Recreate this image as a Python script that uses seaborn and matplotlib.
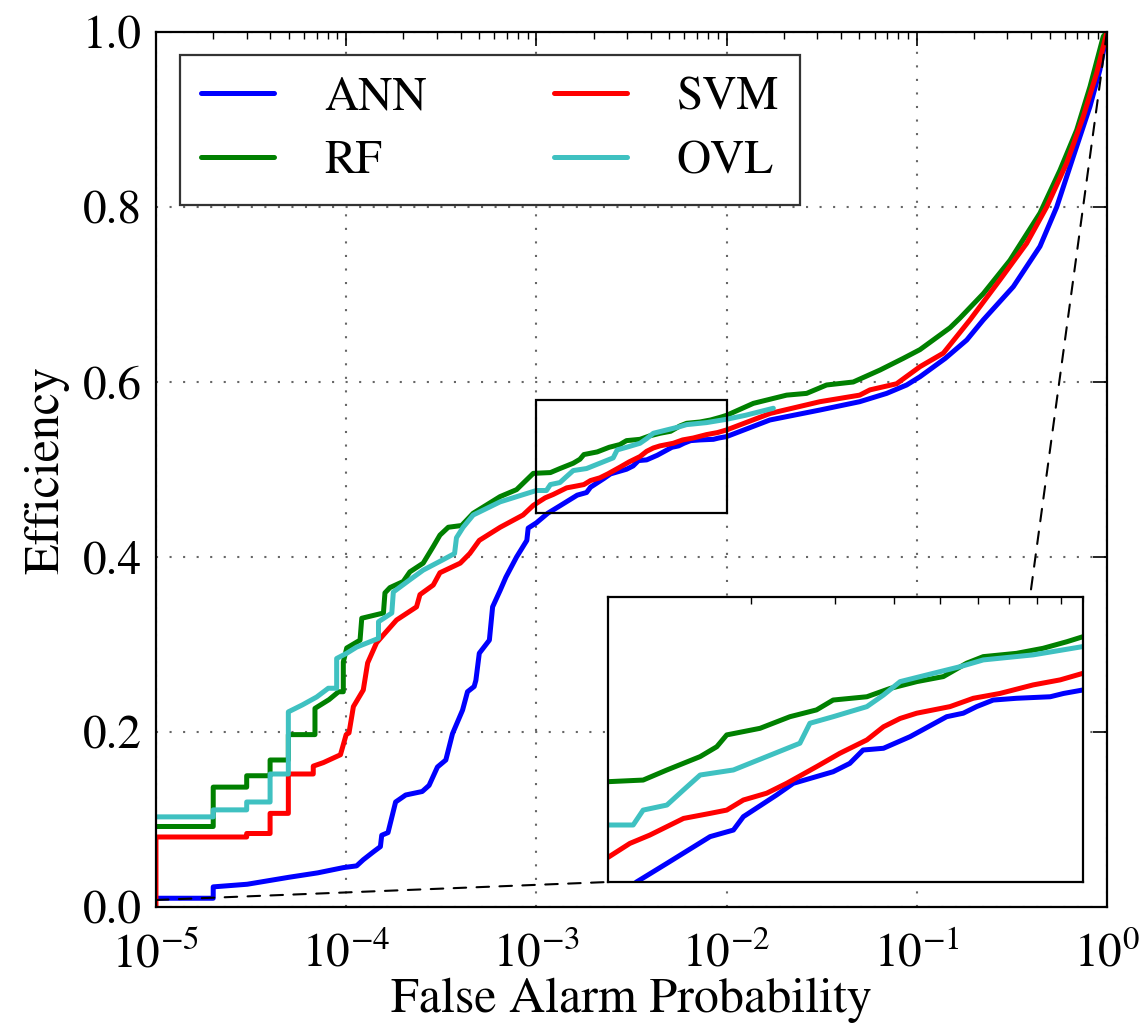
import numpy as np
import pandas as pd
import matplotlib
matplotlib.use("Agg")
import matplotlib.pyplot as plt
import seaborn as sns
from matplotlib.patches import Rectangle, ConnectionPatch
from matplotlib.ticker import LogLocator, NullFormatter, FormatStrFormatter

# ---------------- data (x given as log10 of false alarm probability) ----------------
ann_logfap = [-5.0, -4.699, -4.699, -4.52, -4.30, -4.15, -4.015, -3.945, -3.91, -3.857, -3.82, -3.813,
              -3.78, -3.74, -3.687, -3.60, -3.564, -3.52, -3.476, -3.441, -3.388, -3.362, -3.327, -3.318,
              -3.30, -3.247, -3.23, -3.19, -3.16, -3.104, -3.05, -3.043, -3.0, -2.94, -2.876, -2.785,
              -2.736, -2.715, -2.645, -2.61, -2.526, -2.491, -2.463, -2.42, -2.364, -2.287, -2.252, -2.224,
              -2.189, -2.14, -2.069, -2.041, -2.0, -1.772, -1.509, -1.30, -1.158, -1.053, -0.983, -0.85,
              -0.737, -0.65, -0.492, -0.352, -0.264, -0.177, -0.089, -0.037, 0.0]
ann_eff = [0.010, 0.010, 0.023, 0.026, 0.034, 0.039, 0.045, 0.047, 0.054, 0.063, 0.069, 0.082,
           0.085, 0.120, 0.128, 0.132, 0.139, 0.160, 0.168, 0.198, 0.225, 0.246, 0.252, 0.259,
           0.290, 0.305, 0.343, 0.362, 0.377, 0.400, 0.419, 0.433, 0.439, 0.450, 0.4585, 0.4707,
           0.4737, 0.4798, 0.4897, 0.495, 0.5003, 0.5041, 0.5102, 0.511, 0.5163, 0.5254, 0.527, 0.530,
           0.533, 0.5338, 0.5345, 0.536, 0.5376, 0.5566, 0.568, 0.5775, 0.587, 0.5966, 0.606, 0.627,
           0.648, 0.671, 0.709, 0.755, 0.80, 0.8575, 0.915, 0.9566, 1.0]

svm_logfap = [-5.0, -5.0, -4.523, -4.523, -4.40, -4.40, -4.304, -4.304, -4.173, -4.173, -4.12, -4.03,
              -4.0, -3.985, -3.962, -3.91, -3.887, -3.84, -3.804, -3.735, -3.63, -3.612, -3.542, -3.507,
              -3.40, -3.35, -3.30, -3.19, -3.07, -3.016, -2.954, -2.912, -2.841, -2.785, -2.75, -2.715,
              -2.666, -2.624, -2.561, -2.512, -2.455, -2.42, -2.385, -2.35, -2.28, -2.231, -2.175, -2.105,
              -2.048, -2.0, -1.772, -1.509, -1.30, -1.246, -1.106, -0.983, -0.86, -0.72, -0.563, -0.422,
              -0.317, -0.212, -0.125, -0.054, 0.0]
svm_eff = [0.0, 0.080, 0.080, 0.084, 0.084, 0.107, 0.107, 0.152, 0.152, 0.161, 0.165, 0.174,
           0.197, 0.199, 0.229, 0.248, 0.279, 0.302, 0.311, 0.328, 0.343, 0.357, 0.368, 0.382,
           0.393, 0.404, 0.419, 0.434, 0.448, 0.459, 0.4676, 0.4714, 0.479, 0.4813, 0.4828, 0.4874,
           0.4905, 0.495, 0.5026, 0.5087, 0.5148, 0.5208, 0.5246, 0.527, 0.530, 0.5338, 0.536, 0.5399,
           0.5422, 0.5452, 0.564, 0.5775, 0.585, 0.591, 0.598, 0.6175, 0.633, 0.671, 0.7166, 0.7585,
           0.80, 0.85, 0.903, 0.953, 1.0]

rf_logfap = [-5.0, -4.699, -4.699, -4.523, -4.523, -4.40, -4.40, -4.304, -4.304, -4.164, -4.164, -4.09,
             -4.04, -4.015, -4.015, -3.997, -3.927, -3.918, -3.804, -3.796, -3.770, -3.70, -3.665, -3.595,
             -3.542, -3.507, -3.463, -3.393, -3.332, -3.191, -3.104, -3.016, -2.926, -2.876, -2.806, -2.771,
             -2.75, -2.68, -2.617, -2.561, -2.526, -2.455, -2.406, -2.35, -2.294, -2.245, -2.21, -2.14,
             -2.084, -2.034, -2.0, -1.859, -1.684, -1.579, -1.474, -1.334, -1.193, -1.071, -0.983, -0.825,
             -0.773, -0.650, -0.510, -0.352, -0.247, -0.159, -0.089, -0.019, 0.0]
rf_eff = [0.092, 0.092, 0.137, 0.137, 0.150, 0.150, 0.168, 0.168, 0.197, 0.197, 0.227, 0.237,
          0.246, 0.246, 0.280, 0.296, 0.305, 0.330, 0.336, 0.359, 0.365, 0.372, 0.383, 0.393,
          0.412, 0.425, 0.434, 0.436, 0.450, 0.469, 0.477, 0.4956, 0.4965, 0.5011, 0.5072, 0.5117,
          0.5171, 0.5201, 0.5254, 0.5285, 0.533, 0.5345, 0.5383, 0.5414, 0.5437, 0.5498, 0.5528, 0.5543,
          0.5566, 0.5596, 0.5619, 0.5756, 0.585, 0.587, 0.5966, 0.600, 0.6137, 0.627, 0.637, 0.662,
          0.673, 0.701, 0.739, 0.793, 0.842, 0.888, 0.9375, 0.995, 1.0]

ovl_logfap = [-5.0, -4.699, -4.699, -4.523, -4.523, -4.40, -4.40, -4.304, -4.304, -4.23, -4.155, -4.094,
              -4.05, -4.05, -3.997, -3.945, -3.83, -3.83, -3.76, -3.752, -3.665, -3.595, -3.49, -3.43,
              -3.42, -3.385, -3.332, -3.191, -3.0, -2.947, -2.926, -2.876, -2.841, -2.806, -2.736, -2.666,
              -2.596, -2.575, -2.526, -2.455, -2.42, -2.385, -2.315, -2.259, -2.21, -2.105, -2.0, -1.9, -1.754]
ovl_eff = [0.103, 0.103, 0.111, 0.111, 0.120, 0.120, 0.152, 0.152, 0.223, 0.231, 0.240, 0.250,
           0.250, 0.284, 0.290, 0.297, 0.307, 0.326, 0.336, 0.360, 0.374, 0.385, 0.397, 0.404,
           0.422, 0.434, 0.448, 0.463, 0.476, 0.476, 0.4828, 0.4851, 0.492, 0.4988, 0.5011, 0.5072,
           0.5133, 0.5224, 0.5254, 0.530, 0.5353, 0.5414, 0.5452, 0.5482, 0.5513, 0.5536, 0.5574, 0.562, 0.570]

classifiers = ["ANN", "RF", "SVM", "OVL"]
colors = {"ANN": "#0000ff", "RF": "#008000", "SVM": "#ff0000", "OVL": "#3fc1c1"}
xticks_exp = [-5, -4, -3, -2, -1, 0]
yticks = [0.0, 0.2, 0.4, 0.6, 0.8, 1.0]
zoom_xlim = (1e-3, 1e-2)
zoom_ylim = (0.45, 0.58)

series = {"ANN": (ann_logfap, ann_eff), "RF": (rf_logfap, rf_eff),
          "SVM": (svm_logfap, svm_eff), "OVL": (ovl_logfap, ovl_eff)}
frames = []
for name in classifiers:
    lx, ef = series[name]
    frames.append(pd.DataFrame({"far": 10.0 ** np.asarray(lx), "eff": ef, "clf": name}))
df = pd.concat(frames, ignore_index=True)

# ---------------- style ----------------
sns.set_style("white")
plt.rcParams.update({
    "font.family": ["STIXGeneral", "DejaVu Serif"],
    "mathtext.fontset": "stix",
    "font.size": 34,
    "axes.edgecolor": "black",
    "axes.linewidth": 1.6,
    "xtick.color": "black",
    "ytick.color": "black",
    "text.color": "black",
    "axes.labelcolor": "black",
})

LW = 3.6

fig = plt.figure(figsize=(11.46, 10.23), dpi=100)
ax = fig.add_axes([0.1361, 0.1134, 0.8298, 0.8553])

sns.lineplot(data=df, x="far", y="eff", hue="clf", hue_order=classifiers, palette=colors,
             estimator=None, sort=False, errorbar=None, linewidth=LW, ax=ax)
ax.set_xscale("log")
ax.set_xlim(1e-5, 1)
ax.set_ylim(0, 1)
ax.set_xticks([10.0 ** e for e in xticks_exp])
ax.xaxis.set_minor_locator(LogLocator(base=10, subs=np.arange(2, 10), numticks=30))
ax.xaxis.set_minor_formatter(NullFormatter())
ax.set_yticks(yticks)
ax.yaxis.set_major_formatter(FormatStrFormatter("%.1f"))
ax.tick_params(which="both", direction="in", top=True, right=True, labelsize=34)
ax.tick_params(which="major", length=10, width=1.2)
ax.tick_params(axis="x", which="major", pad=18)
ax.tick_params(axis="y", which="major", pad=10)
ax.tick_params(which="minor", length=5, width=1.0)
ax.grid(True, which="major", linestyle=(0, (1, 5.5)), color="0.4", lw=1.5)
ax.set_xlabel("False Alarm Probability", fontsize=36, labelpad=0)
ax.set_ylabel("Efficiency", fontsize=36, labelpad=10)

old = ax.get_legend()
handles = list(old.legend_handles)
labels = [t.get_text() for t in old.texts]
old.remove()
for h in handles:
    h.set_linewidth(LW)
leg = ax.legend(handles, labels, ncol=2, loc="upper left", bbox_to_anchor=(0.025, 0.974),
                borderaxespad=0, fontsize=34, handlelength=1.55, handletextpad=1.05,
                columnspacing=2.7, labelspacing=0.45, borderpad=0.45, frameon=True,
                fancybox=False, framealpha=1)
leg.get_frame().set_edgecolor("0.2")
leg.get_frame().set_linewidth(1.6)

# zoom rectangle in main axes
ax.add_patch(Rectangle((zoom_xlim[0], zoom_ylim[0]), zoom_xlim[1] - zoom_xlim[0],
                       zoom_ylim[1] - zoom_ylim[0], fill=False, ec="black", lw=1.6, zorder=5))

# ---------------- inset ----------------
axins = fig.add_axes([608 / 1146, (1023 - 882) / 1023, 475 / 1146, 285 / 1023])
sns.lineplot(data=df, x="far", y="eff", hue="clf", hue_order=classifiers, palette=colors,
             estimator=None, sort=False, errorbar=None, linewidth=LW, ax=axins, legend=False)
axins.set_xscale("log")
axins.set_xlim(*zoom_xlim)
axins.set_ylim(*zoom_ylim)
axins.set_yticks([])
axins.xaxis.set_minor_locator(LogLocator(base=10, subs=np.arange(2, 10), numticks=30))
axins.xaxis.set_minor_formatter(NullFormatter())
axins.tick_params(which="both", direction="in", top=True, labelbottom=False)
axins.tick_params(which="minor", length=5, width=1.0)
axins.set_xlabel("")
axins.set_ylabel("")
axins.grid(False)
for s in axins.spines.values():
    s.set_linewidth(1.6)

# dashed connector lines
for xyA, xyB in [((0.0, 0.008), (0.0, 0.0)), ((1.0, 1.0), (0.89, 1.02))]:
    con = ConnectionPatch(xyA=xyA, coordsA=ax.transAxes, xyB=xyB, coordsB=axins.transAxes,
                          linestyle=(0, (6, 5)), color="black", lw=1.5, zorder=3)
    fig.add_artist(con)

fig.savefig("out.png", dpi=100)
